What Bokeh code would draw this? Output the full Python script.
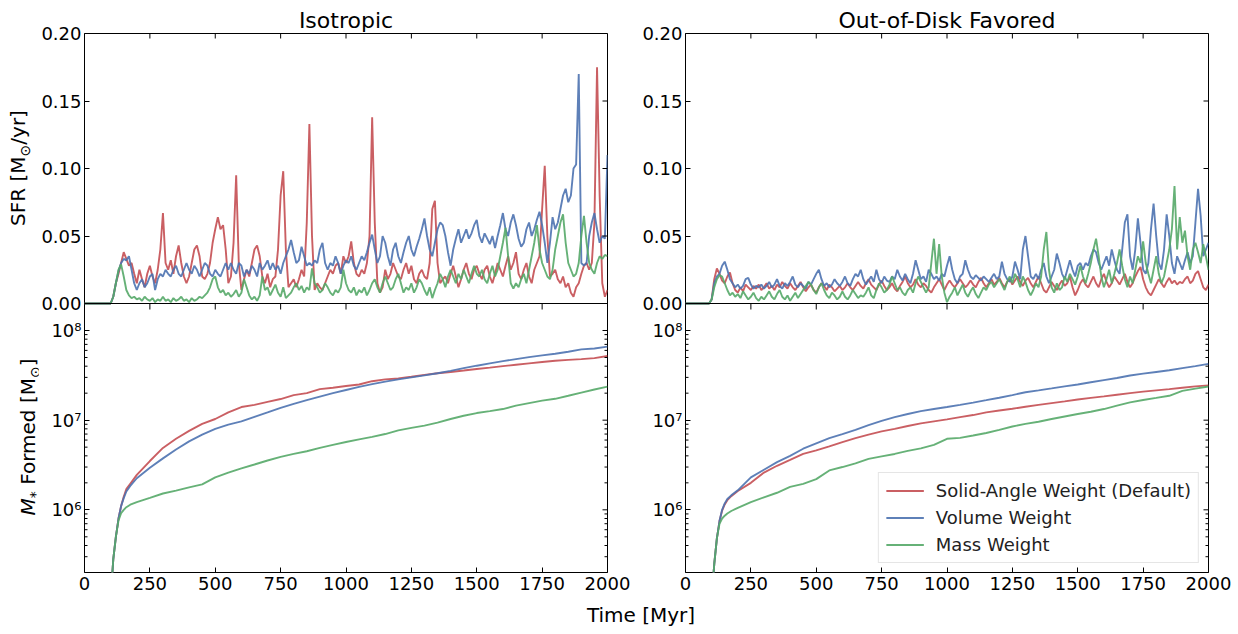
import math
from bokeh.plotting import figure
from bokeh.layouts import row, column
from bokeh.models import Range1d, FixedTicker, LogScale, CustomJSTickFormatter, Div, Span
from bokeh.embed import file_html
from bokeh.resources import INLINE

# ---------------- data ----------------
PANEL_TITLES = ["Isotropic", "Out-of-Disk Favored"]
SERIES_NAMES = ["Solid-Angle Weight (Default)", "Volume Weight", "Mass Weight"]
TIME_TICKS = [0, 250, 500, 750, 1000, 1250, 1500, 1750, 2000]
SFR_TICKS = [0.0, 0.05, 0.10, 0.15, 0.20]
MASS_TICKS = [1e6, 1e7, 1e8]

# SFR sampled every 10 Myr, 0..2000 Myr, in units of 1e-3 Msun/yr
SFR_TIME = list(range(0, 2001, 10))

iso_sfr_solid = [
    0, 0, 0, 0, 0, 0, 0, 0, 0, 0,
    0, 5, 15, 22, 30, 38, 33, 28, 30, 22,
    15, 25, 18, 12, 22, 28, 20, 15, 25, 40,
    67, 30, 25, 32, 22, 35, 43, 30, 20, 15,
    20, 30, 40, 43, 35, 20, 18, 22, 30, 45,
    55, 64, 55, 58, 40, 15, 20, 45, 95, 30,
    10, 18, 25, 20, 30, 40, 43, 35, 20, 15,
    22, 12, 18, 20, 40, 80, 98, 40, 12, 15,
    18, 12, 18, 25, 20, 60, 133, 50, 10, 15,
    12, 10, 15, 20, 25, 22, 28, 30, 22, 35,
    30, 35, 46, 30, 22, 20, 25, 22, 30, 50,
    138, 60, 15, 8, 12, 25, 18, 22, 30, 25,
    20, 18, 25, 30, 22, 28, 18, 15, 22, 25,
    20, 18, 30, 70, 76, 30, 15, 18, 20, 15,
    22, 28, 20, 12, 18, 25, 30, 22, 18, 25,
    28, 22, 18, 25, 28, 20, 15, 22, 30, 25,
    20, 28, 35, 25, 30, 38, 22, 18, 25, 30,
    20, 15, 25, 30, 35, 70, 102, 50, 20, 22,
    25, 18, 15, 20, 12, 15, 8, 5, 12, 15,
    22, 28, 30, 25, 30, 60, 175, 80, 15, 5,
    10,
]
iso_sfr_volume = [
    0, 0, 0, 0, 0, 0, 0, 0, 0, 0,
    0, 5, 15, 24, 30, 33, 32, 35, 25, 15,
    10, 15, 18, 12, 15, 20, 22, 10, 18, 22,
    20, 25, 22, 20, 25, 28, 22, 20, 25, 30,
    25, 22, 28, 25, 20, 25, 30, 28, 22, 20,
    25, 22, 20, 25, 30, 25, 30, 25, 22, 30,
    28, 20, 25, 22, 28, 25, 20, 30, 25, 28,
    32, 25, 30, 25, 28, 22, 30, 35, 40, 47,
    38, 30, 32, 42, 35, 28, 30, 28, 32, 30,
    40, 45, 30, 25, 30, 28, 35, 30, 22, 28,
    32, 30, 35, 28, 25, 30, 35, 32, 38, 45,
    51, 40, 30, 35, 50, 45, 35, 28, 40, 45,
    35, 30, 38, 45, 50, 40, 35, 42, 48, 55,
    63, 50, 40, 35, 45, 55, 60, 58, 50, 38,
    28, 40, 48, 55, 45, 50, 55, 48, 52, 58,
    62, 50, 45, 52, 48, 44, 50, 41, 50, 58,
    67, 55, 50, 60, 66, 58, 48, 42, 45, 55,
    60, 50, 55, 62, 68, 58, 45, 30, 45, 64,
    55, 60, 70, 80, 85, 75, 80, 100, 103, 170,
    30, 28, 30, 50, 60, 67, 55, 45, 50, 48,
    110,
]
iso_sfr_mass = [
    0, 0, 0, 0, 0, 0, 0, 0, 0, 0,
    0, 5, 15, 25, 29, 20, 10, 6, 4, 5,
    3, 4, 2, 5, 3, 2, 4, 1, 3, 2,
    5, 2, 3, 1, 4, 2, 3, 5, 2, 3,
    1, 4, 2, 3, 5, 4, 6, 8, 12, 18,
    20, 12, 8, 10, 6, 8, 5, 7, 10, 5,
    8, 18, 12, 6, 3, 5, 2, 6, 20, 10,
    12, 6, 10, 14, 8, 5, 12, 4, 6, 8,
    12, 15, 10, 13, 8, 12, 10, 26, 15, 12,
    8, 10, 15, 12, 8, 6, 10, 8, 12, 25,
    15, 10, 8, 12, 6, 10, 8, 12, 6, 10,
    15, 18, 12, 8, 15, 20, 15, 10, 12, 18,
    22, 15, 8, 12, 10, 15, 8, 12, 18, 15,
    10, 6, 12, 4, 10, 15, 22, 18, 12, 20,
    25, 20, 15, 22, 18, 25, 20, 15, 22, 28,
    22, 20, 25, 18, 15, 22, 28, 20, 25, 35,
    45, 56, 35, 15, 11, 15, 12, 18, 22, 15,
    25, 35, 45, 58, 40, 30, 25, 20, 18, 25,
    40, 50, 60, 66, 45, 30, 25, 20, 22, 30,
    50, 65, 45, 30, 25, 22, 30, 35, 33, 36,
    35,
]
ood_sfr_solid = [
    0, 0, 0, 0, 0, 0, 0, 0, 0, 0,
    3, 18, 26, 22, 17, 15, 20, 23, 15, 10,
    8, 12, 9, 14, 12, 10, 13, 11, 14, 10,
    12, 15, 11, 13, 10, 14, 12, 16, 13, 11,
    15, 12, 10, 13, 16, 12, 9, 12, 14, 10,
    8, 12, 15, 13, 10, 14, 12, 9, 11, 13,
    10, 12, 15, 12, 10, 13, 16, 13, 11, 15,
    18, 14, 12, 10, 14, 17, 13, 10, 12, 15,
    11, 9, 13, 16, 20, 15, 12, 14, 18, 14,
    12, 15, 13, 10, 8, 12, 15, 18, 14, 10,
    14, 17, 14, 12, 15, 18, 15, 12, 14, 17,
    14, 12, 16, 19, 15, 12, 15, 18, 14, 16,
    19, 15, 12, 16, 18, 14, 17, 20, 16, 13,
    17, 19, 15, 12, 16, 20, 15, 10, 8, 12,
    16, 13, 10, 14, 17, 13, 15, 20, 12, 6,
    10, 15, 18, 14, 12, 16, 20, 15, 12, 18,
    22, 16, 12, 15, 20, 17, 14, 18, 22, 16,
    12, 15, 20, 24, 27, 18, 12, 8, 6, 10,
    14, 18, 15, 12, 16, 19, 15, 17, 14, 16,
    15, 18, 20, 15, 17, 22, 24, 18, 12, 10,
    14,
]
ood_sfr_volume = [
    0, 0, 0, 0, 0, 0, 0, 0, 0, 0,
    3, 15, 20, 22, 28, 31, 25, 18, 15, 12,
    14, 11, 13, 18, 19, 14, 11, 13, 12, 14,
    11, 13, 16, 12, 14, 18, 13, 11, 15, 13,
    16, 20, 14, 12, 15, 13, 11, 16, 14, 18,
    22, 25, 18, 13, 15, 12, 14, 18, 15, 13,
    16, 20, 15, 13, 18, 22, 20, 25, 18, 14,
    17, 20, 16, 25, 18, 15, 20, 17, 16, 20,
    18, 25, 20, 17, 22, 18, 15, 22, 32, 25,
    18, 20, 16, 25, 22, 18, 20, 17, 22, 20,
    28, 35, 25, 18, 15, 20, 22, 32, 25, 20,
    18, 21, 19, 17, 20, 18, 16, 19, 22, 18,
    20, 31, 22, 18, 16, 20, 31, 25, 18, 40,
    50, 35, 20, 18, 22, 18, 25, 30, 20, 15,
    20, 25, 37, 30, 22, 18, 25, 32, 25, 20,
    28, 30, 25, 30, 28, 35, 40, 38, 30, 25,
    30, 35, 28, 40, 32, 25, 22, 40, 60, 66,
    35, 25, 40, 63, 45, 25, 22, 30, 55, 74,
    50, 30, 25, 40, 66, 50, 30, 22, 35, 30,
    25, 32, 38, 30, 35, 60, 85, 65, 35, 40,
    45,
]
ood_sfr_mass = [
    0, 0, 0, 0, 0, 0, 0, 0, 0, 0,
    3, 12, 18, 21, 20, 15, 10, 6, 8, 5,
    7, 4, 9, 6, 3, 5, 8, 4, 2, 5,
    3, 6, 9, 5, 3, 7, 10, 5, 3, 6,
    2, 5, 8, 4, 7, 10, 13, 16, 14, 10,
    7, 12, 15, 10, 6, 4, 8, 6, 3, 5,
    9, 5, 3, 6, 10, 7, 4, 6, 5, 8,
    12, 6, 4, 10, 15, 12, 8, 10, 14, 20,
    15, 10, 12, 8, 6, 10, 12, 8, 15, 20,
    16, 12, 8, 12, 30, 48, 22, 44, 20, 8,
    1, 5, 8, 12, 6, 10, 14, 8, 5, 9,
    12, 7, 4, 8, 12, 10, 14, 16, 12, 15,
    18, 14, 10, 16, 20, 15, 22, 18, 12, 20,
    16, 10, 6, 10, 15, 12, 20, 40, 53, 25,
    12, 8, 15, 10, 12, 20, 16, 22, 18, 14,
    20, 28, 20, 15, 22, 30, 40, 48, 35, 20,
    12, 18, 25, 15, 22, 30, 40, 28, 18, 12,
    20, 15, 25, 35, 30, 46, 30, 22, 15, 25,
    35, 22, 15, 20, 30, 40, 55, 87, 40, 64,
    45, 54, 35, 25, 40, 45, 38, 30, 44, 35,
    25,
]

# Cumulative stellar mass formed, in units of 1e6 Msun
MASS_TIME = [100, 110, 120, 130, 140, 150, 160, 175, 200,
             250, 300, 350, 400, 450, 500, 550, 600, 650, 700,
             750, 800, 850, 900, 950, 1000, 1050, 1100, 1150, 1200,
             1250, 1300, 1350, 1400, 1450, 1500, 1550, 1600, 1650, 1700,
             1750, 1800, 1850, 1900, 1950, 2000]

iso_mass_solid = [0.10, 0.28, 0.50, 0.80, 1.10, 1.40, 1.70, 1.95, 2.45,
                  3.5, 4.9, 6.2, 7.6, 9.1, 10.3, 12.2, 14.0, 14.8, 16.0,
                  17.2, 19.0, 20.0, 22.2, 23.0, 24.0, 25.0, 27.2, 28.5, 29.2,
                  30.5, 32.0, 33.4, 34.5, 35.8, 37.2, 38.5, 40.0, 41.5, 43.0,
                  44.5, 46.0, 47.0, 48.0, 49.2, 52.0]
iso_mass_volume = [0.10, 0.28, 0.50, 0.80, 1.10, 1.35, 1.60, 1.85, 2.25,
                   2.95, 3.75, 4.7, 5.8, 6.9, 8.0, 8.9, 9.7, 10.9, 12.2,
                   13.7, 15.2, 16.7, 18.3, 20.0, 21.7, 23.5, 25.2, 26.9, 28.5,
                   30.0, 31.6, 33.4, 35.5, 38.0, 40.5, 43.0, 45.5, 48.0, 50.5,
                   52.8, 55.0, 58.0, 61.5, 63.0, 66.0]
iso_mass_mass = [0.10, 0.28, 0.50, 0.76, 0.92, 1.00, 1.07, 1.14, 1.22,
                 1.36, 1.52, 1.64, 1.78, 1.92, 2.30, 2.60, 2.90, 3.20, 3.55,
                 3.90, 4.20, 4.50, 4.90, 5.30, 5.70, 6.10, 6.50, 7.00, 7.70,
                 8.20, 8.70, 9.40, 10.3, 11.2, 12.0, 12.6, 13.3, 14.5, 15.5,
                 16.5, 17.3, 18.7, 20.3, 22.0, 23.7]
ood_mass_solid = [0.10, 0.25, 0.48, 0.75, 0.98, 1.15, 1.28, 1.42, 1.62,
                  2.0, 2.6, 3.1, 3.6, 4.2, 4.6, 5.1, 5.7, 6.3, 6.9,
                  7.5, 8.0, 8.6, 9.2, 9.7, 10.2, 10.8, 11.4, 12.2, 12.8,
                  13.4, 14.1, 14.8, 15.5, 16.2, 17.0, 17.7, 18.4, 19.2, 20.0,
                  20.8, 21.5, 22.2, 23.0, 23.8, 24.4]
ood_mass_volume = [0.10, 0.25, 0.48, 0.75, 1.00, 1.18, 1.32, 1.45, 1.65,
                   2.3, 2.8, 3.4, 4.0, 4.8, 5.5, 6.3, 7.0, 7.8, 8.8,
                   9.8, 10.8, 11.7, 12.6, 13.3, 14.0, 14.8, 15.7, 16.7, 17.8,
                   19.0, 20.5, 21.5, 22.6, 23.8, 25.0, 26.5, 28.0, 29.5, 31.5,
                   33.0, 34.5, 36.0, 38.0, 40.0, 42.5]
ood_mass_mass = [0.10, 0.25, 0.48, 0.70, 0.80, 0.86, 0.91, 0.97, 1.05,
                 1.22, 1.38, 1.55, 1.80, 1.95, 2.20, 2.75, 3.00, 3.30, 3.70,
                 3.95, 4.20, 4.55, 4.85, 5.30, 6.20, 6.35, 6.75, 7.20, 7.80,
                 8.50, 9.10, 9.60, 10.3, 11.0, 11.7, 12.4, 13.3, 14.5, 15.8,
                 16.8, 17.7, 18.7, 21.2, 22.5, 23.7]

# ---------------- layout / style ----------------
FONT = "DejaVu Sans"
COLORS = ["#c44e52", "#4c72b0", "#55a868"]
LW = 1.9
ALPHA = 0.9
FRAME_W = 523
TOP_H = 270          # SFR panel height (px)
BOT_H = 269          # mass panel height (px)
FRAME_H = TOP_H + BOT_H
X0, X1 = 0, 2000
S1 = 0.2
M0, M1 = 2e5, 2e8
# one frame per column: SFR (linear) on top, mass (log) below, sharing an edge
S_LO = -S1 * BOT_H / TOP_H
L_LO = math.log10(M0)
L_HI = math.log10(M1) + (math.log10(M1) - L_LO) * TOP_H / BOT_H
M_HI = 10 ** L_HI
MASS_MINOR = [m * 10.0 ** e for e in (5, 6, 7) for m in range(2, 10)]

LABEL_W = 38
BL_LEFT, BR_LEFT, BL_RIGHT, BR_RIGHT = 45, 24, 54, 24
B_TOP, B_BOTTOM = 33, 26
FIG_H = B_TOP + FRAME_H + B_BOTTOM


def mass_to_s(m):
    return S_LO + (math.log10(m) - L_LO) / (L_HI - L_LO) * (S1 - S_LO)


LEFT_FMT = """
if (tick > -1e-9) { return tick.toFixed(2); }
const lg = llo + (tick - slo) / (shi - slo) * (lhi - llo);
const e = Math.round(lg);
const sup = {"0":"\\u2070","1":"\\u00b9","2":"\\u00b2","3":"\\u00b3","4":"\\u2074",
             "5":"\\u2075","6":"\\u2076","7":"\\u2077","8":"\\u2078","9":"\\u2079"};
return "10" + String(e).split("").map(c => sup[c]).join("");
"""


def px_x(n):
    return n * (X1 - X0) / FRAME_W


def panel_column(title, bl, br, sfr_series, mass_series, legend):
    p = figure(x_range=Range1d(X0, X1), y_range=Range1d(S_LO, S1),
               extra_y_ranges={"mass": Range1d(M0, M_HI)},
               extra_y_scales={"mass": LogScale()},
               frame_width=FRAME_W, frame_height=FRAME_H,
               min_border_left=bl, min_border_right=br,
               min_border_top=B_TOP, min_border_bottom=B_BOTTOM,
               title=title, output_backend="svg", toolbar_location=None)
    p.outline_line_color = "black"
    p.outline_line_width = 1
    p.xgrid.visible = False
    p.ygrid.visible = False
    p.background_fill_color = "white"
    p.border_fill_color = "white"

    p.title.text_font = FONT
    p.title.text_font_size = "22px"
    p.title.text_font_style = "normal"
    p.title.text_color = "black"
    p.title.align = "center"
    p.title.standoff = 2

    # bottom time axis
    xax = p.xaxis[0]
    xax.ticker = FixedTicker(ticks=TIME_TICKS)
    xax.major_tick_in = 5
    xax.major_tick_out = 0
    xax.minor_tick_line_color = None
    xax.axis_line_color = None
    xax.major_label_text_font = FONT
    xax.major_label_text_font_size = "18px"
    xax.major_label_text_color = "black"
    xax.major_label_standoff = 4

    # left axis: SFR ticks (top panel) and mass decades (bottom panel)
    yax = p.yaxis[0]
    yax.ticker = FixedTicker(ticks=SFR_TICKS + [mass_to_s(m) for m in MASS_TICKS])
    yax.formatter = CustomJSTickFormatter(
        code=LEFT_FMT, args=dict(slo=S_LO, shi=S1, llo=L_LO, lhi=L_HI))
    yax.major_tick_in = 5
    yax.major_tick_out = 0
    yax.minor_tick_line_color = None
    yax.axis_line_color = None
    yax.major_label_text_font = FONT
    yax.major_label_text_font_size = "18px"
    yax.major_label_text_color = "black"
    yax.major_label_standoff = 3

    # shared edge between the two panels
    p.add_layout(Span(location=0, dimension="width", line_color="black",
                      line_width=1))

    for vals, col in zip(sfr_series, COLORS):
        p.line(SFR_TIME, [v / 1000.0 for v in vals], line_color=col,
               line_width=LW, line_alpha=ALPHA)
    for vals, col, name in zip(mass_series, COLORS, SERIES_NAMES):
        kw = dict(legend_label=name) if legend else {}
        p.line(MASS_TIME, [v * 1e6 for v in vals], line_color=col,
               line_width=LW, line_alpha=ALPHA, y_range_name="mass", **kw)

    # inward ticks on the remaining edges
    tick_kw = dict(line_color="black", line_width=1)
    nt = len(TIME_TICKS)
    dy5 = 5 * (S1 - S_LO) / FRAME_H
    p.segment(x0=TIME_TICKS, y0=[S1] * nt, x1=TIME_TICKS, y1=[S1 - dy5] * nt, **tick_kw)
    f6 = 10 ** (6 * (L_HI - L_LO) / FRAME_H)
    p.segment(x0=TIME_TICKS, y0=[M1] * nt, x1=TIME_TICKS, y1=[M1 / f6] * nt,
              y_range_name="mass", **tick_kw)
    ns = len(SFR_TICKS)
    p.segment(x0=[X1] * ns, y0=SFR_TICKS, x1=[X1 - px_x(5)] * ns, y1=SFR_TICKS, **tick_kw)
    nm = len(MASS_TICKS)
    p.segment(x0=[X1] * nm, y0=MASS_TICKS, x1=[X1 - px_x(5)] * nm, y1=MASS_TICKS,
              y_range_name="mass", **tick_kw)
    nn = len(MASS_MINOR)
    p.segment(x0=[X1] * nn, y0=MASS_MINOR, x1=[X1 - px_x(3)] * nn, y1=MASS_MINOR,
              y_range_name="mass", **tick_kw)
    p.segment(x0=[X0] * nn, y0=MASS_MINOR, x1=[X0 + px_x(3)] * nn, y1=MASS_MINOR,
              y_range_name="mass", **tick_kw)

    if legend:
        lg = p.legend[0]
        lg.location = "bottom_right"
        lg.margin = 9
        lg.padding = 7
        lg.spacing = 6
        lg.label_height = 21
        lg.glyph_height = 21
        lg.glyph_width = 38
        lg.label_standoff = 12
        lg.label_text_font = FONT
        lg.label_text_font_size = "18px"
        lg.label_text_color = "#222222"
        lg.border_line_color = "#cccccc"
        lg.border_line_width = 1
        lg.background_fill_alpha = 0.8
    return p


pL = panel_column(PANEL_TITLES[0], BL_LEFT, BR_LEFT,
                  [iso_sfr_solid, iso_sfr_volume, iso_sfr_mass],
                  [iso_mass_solid, iso_mass_volume, iso_mass_mass], False)
pR = panel_column(PANEL_TITLES[1], BL_RIGHT, BR_RIGHT,
                  [ood_sfr_solid, ood_sfr_volume, ood_sfr_mass],
                  [ood_mass_solid, ood_mass_volume, ood_mass_mass], True)

# rotated y-axis titles (one per stacked panel)
ROT = ("position:absolute;left:%dpx;top:%dpx;width:240px;height:24px;"
       "line-height:24px;text-align:center;transform:rotate(-90deg);"
       "font-family:'DejaVu Sans';font-size:20px;color:black;white-space:nowrap;")
sfr_cy = B_TOP + TOP_H / 2
mass_cy = B_TOP + TOP_H + BOT_H / 2
ylabels = Div(
    text=('<div style="position:relative;width:%dpx;height:%dpx;">'
          '<div style="%s">SFR [M<sub style="font-size:14px">\u2299</sub>/yr]</div>'
          '<div style="%s"><i>M</i><sub style="font-size:14px">*</sub> Formed '
          '[M<sub style="font-size:14px">\u2299</sub>]</div></div>')
    % (LABEL_W, FIG_H,
       ROT % (18 - 120, int(sfr_cy - 12)),
       ROT % (28 - 120, int(mass_cy - 12))),
    width=LABEL_W, height=FIG_H, margin=0)

total_w = LABEL_W + BL_LEFT + FRAME_W + BR_LEFT + BL_RIGHT + FRAME_W + BR_RIGHT
center = 641
ml = 2 * center - total_w
xlabel = Div(
    text=('<div style="margin-left:%dpx;width:%dpx;padding-top:6px;text-align:center;'
          'font-family:\'DejaVu Sans\';font-size:20px;line-height:22px;'
          'color:black;">Time [Myr]</div>') % (ml, total_w - ml),
    width=total_w, height=28, margin=0)

layout = column(row(ylabels, pL, pR), xlabel)

with open("out.html", "w", encoding="utf-8") as f:
    f.write(file_html(layout, INLINE, title="SFR comparison"))
